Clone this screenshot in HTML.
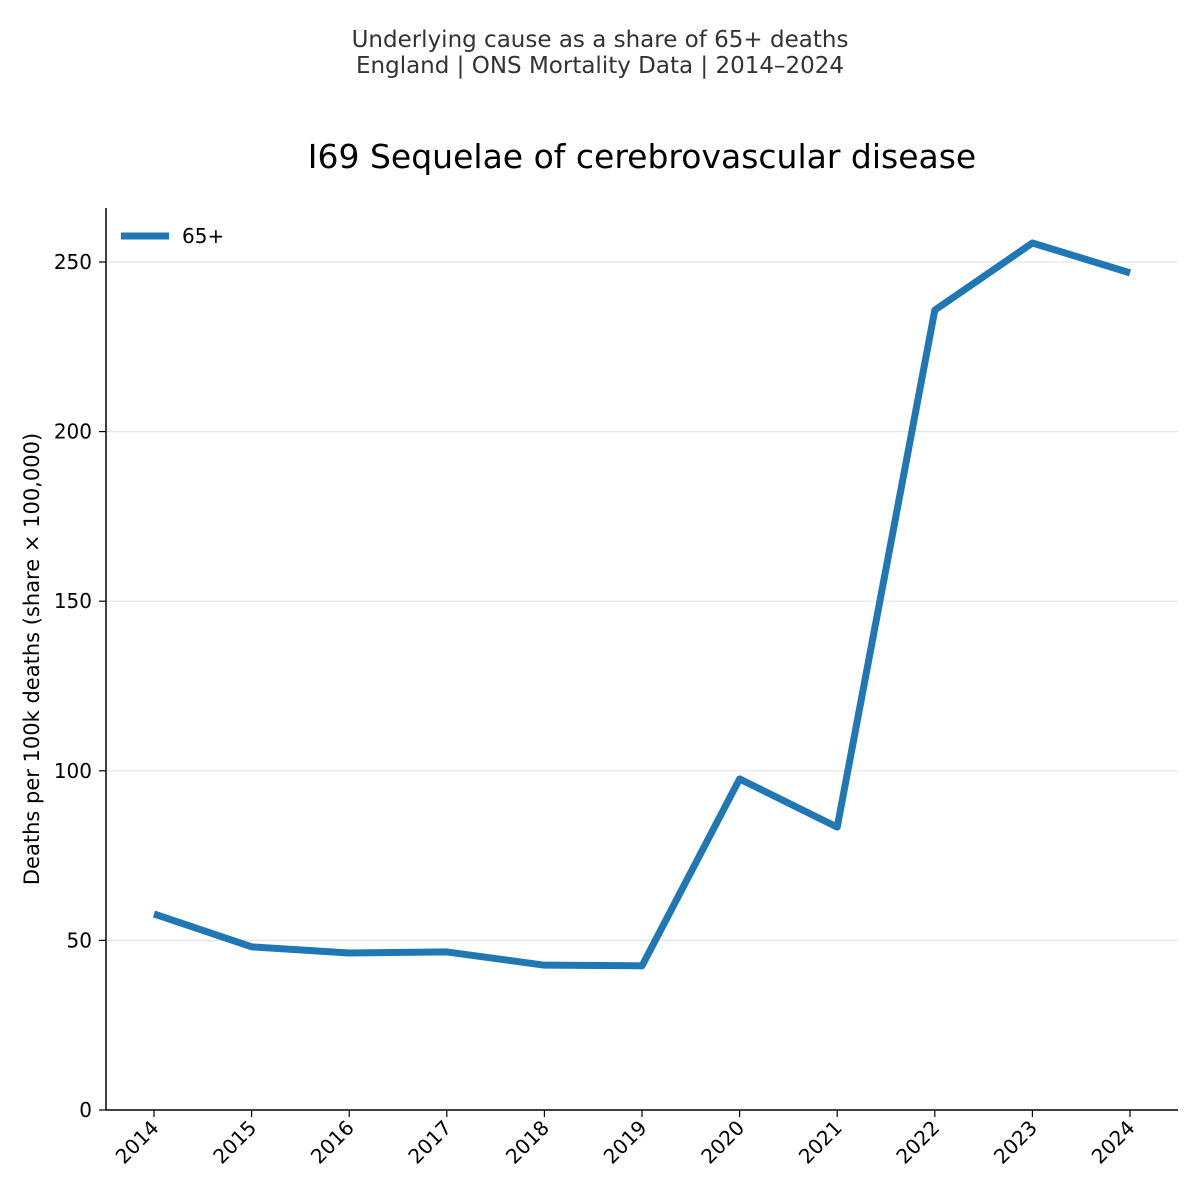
<!DOCTYPE html>
<html><head><meta charset="utf-8"><style>
html,body{margin:0;padding:0;background:#fff}
svg{display:block;font-family:"DejaVu Sans","Liberation Sans",sans-serif}
</style></head><body>
<svg id="chart" width="1200" height="1200" viewBox="0 0 1200 1200">
<text x="600" y="47" text-anchor="middle" font-size="23" fill="#333">Underlying cause as a share of 65+ deaths</text>
<text x="600" y="73" text-anchor="middle" font-size="23" fill="#333">England | ONS Mortality Data | 2014–2024</text>
<text x="642" y="168" text-anchor="middle" font-size="33" fill="#000">I69 Sequelae of cerebrovascular disease</text>
<g id="grid"></g>
<g id="yticks"></g>
<g id="xticks"></g>
<line x1="106" y1="208" x2="106" y2="1110" stroke="#000" stroke-width="1.5"/>
<line x1="106" y1="1110" x2="1178" y2="1110" stroke="#000" stroke-width="1.5"/>
<text transform="translate(39,659) rotate(-90)" text-anchor="middle" font-size="21" fill="#000">Deaths per 100k deaths (share × 100,000)</text>
<g id="series"></g>
<g>
<line x1="121" y1="236" x2="169" y2="236" stroke="#1f77b4" stroke-width="7"/>
<text x="182" y="243" font-size="20" fill="#000">65+</text>
</g>
</svg>
<script>
const years = [2014,2015,2016,2017,2018,2019,2020,2021,2022,2023,2024];
const values = [57.8,48.1,46.3,46.6,42.7,42.5,97.6,83.4,235.8,255.6,246.8];
const yTicks = [0,50,100,150,200,250];

const NS = "http://www.w3.org/2000/svg";
const xScale = y => 154 + (y - 2014) * (1130 - 154) / 10;
const yScale = v => 1110 - v * (1110 - 262) / 250;
function mk(tag, attrs, parent) {
  const e = document.createElementNS(NS, tag);
  for (const k in attrs) e.setAttribute(k, attrs[k]);
  parent.appendChild(e);
  return e;
}
const grid = document.getElementById('grid');
const yt = document.getElementById('yticks');
const xt = document.getElementById('xticks');
yTicks.forEach(t => {
  const y = yScale(t);
  if (t > 0) {
    const g = mk('line', {x1:106, x2:1178, y1:y, y2:y, stroke:'#e5e5e5', 'stroke-width':1.2}, grid);
    
    
  }
  const tk = mk('line', {x1:99, x2:106, y1:y, y2:y, stroke:'#000', 'stroke-width':1.2}, yt);
  
  
  const lb = mk('text', {x:92, y:y + 7, 'text-anchor':'end', 'font-size':20, fill:'#000'}, yt);
  lb.textContent = t;
  
  
});
years.forEach(yr => {
  const x = xScale(yr);
  const tk = mk('line', {x1:x, x2:x, y1:1110, y2:1117, stroke:'#000', 'stroke-width':1.2}, xt);
  
  
  const lb = mk('text', {transform:`translate(${x + 6},${1129}) rotate(-45)`, 'text-anchor':'end', 'font-size':20, fill:'#000'}, xt);
  lb.textContent = yr;
  
  
});
const pts = years.map((yr, i) => xScale(yr) + ',' + yScale(values[i])).join(' ');
const line = mk('polyline', {points:pts, fill:'none', stroke:'#1f77b4', 'stroke-width':7, 'stroke-linejoin':'round', 'stroke-linecap':'butt'}, document.getElementById('series'));


</script>
</body></html>
